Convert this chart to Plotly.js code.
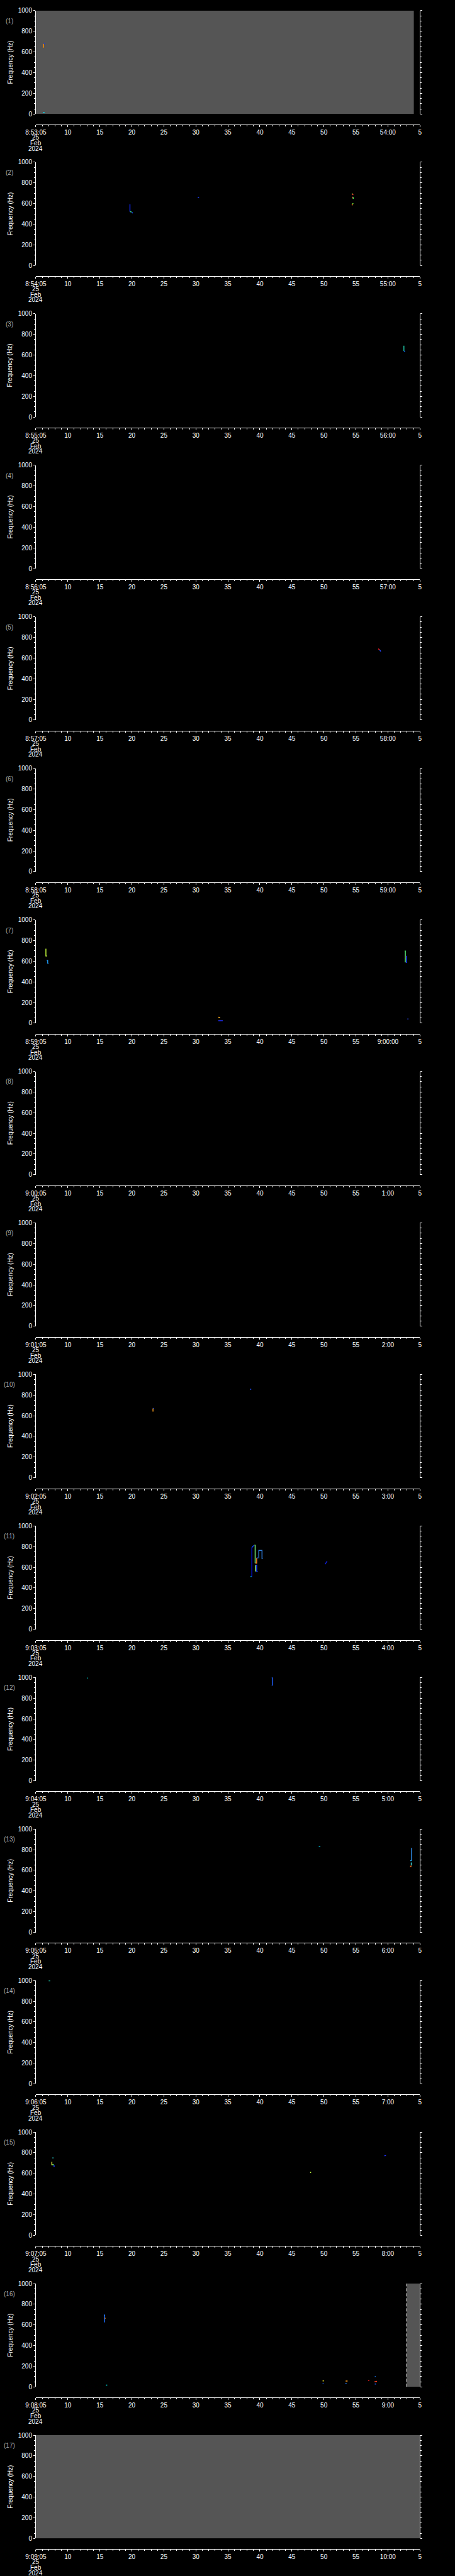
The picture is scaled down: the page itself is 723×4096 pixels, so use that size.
<!DOCTYPE html>
<html><head><meta charset="utf-8">
<script src="https://cdn.plot.ly/plotly-3.0.1.min.js"></script>
<style>html,body{margin:0;padding:0;background:#000;overflow:hidden}#chart{width:723px;height:4096px}</style>
</head><body><div id="chart"></div>
<script>
// ---------------- data ----------------
const panelStart = ['8:53:05','8:54:05','8:55:05','8:56:05','8:57:05','8:58:05','8:59:05','9:00:05','9:01:05',
  '9:02:05','9:03:05','9:04:05','9:05:05','9:06:05','9:07:05','9:08:05','9:09:05'];
const minuteLabel = ['54:00','55:00','56:00','57:00','58:00','59:00','9:00:00','1:00','2:00','3:00','4:00','5:00',
  '6:00','7:00','8:00','9:00','10:00'];
const secondLabel = ['10','15','20','25','30','35','40','45','50','55'];
const endLabel = '5';
const tickOffsets = [0,5,10,15,20,25,30,35,40,45,50,55,60];   // seconds after panel start
const dateLines = ['25','Feb','2024'];
const freqTicks = [0,200,400,600,800,1000];
const freqTitle = 'Frequency (Hz)';

// grey (no data / flagged) blocks
const greyPanel = [1, 16, 17];
const greyFrom  = [0, 57.94, 0];
const greyTo    = [59.05, 60, 60];
const flagPanel = 16, flagTime = 57.94, flagText = '$ADRUN,0,*', flagFreq = 1036;

// spectrogram traces: panel, time offsets (s), frequency (Hz), colour
const markPanel = [1,1,1, 2,2,2,2,2,2,2,2,2,2, 3,3, 5,5, 7,7,7,7,7,7,7,7, 10,10,10,
  11,11,11,11,11,11,11,11,11,11, 12,12, 13,13,13,13,13, 14, 15,15,15,15,15,15,
  16,16,16,16,16,16,16,16,16,16,16,16];
const markT = [
  [1.2,1.2],[1.25,1.42],[1.15,1.35],
  [14.7,14.7],[14.72,14.98],[15.0,15.15],[25.3,25.5],[49.35,49.5],[49.45,49.6],[49.5,49.5],[49.56,49.6],[49.45,49.62],[49.42,49.42],
  [57.5,57.5],[57.5,57.68],
  [53.5,53.7],[53.7,53.9],
  [1.57,1.57,1.75],[1.7,1.85,1.85,1.95],[28.5,28.8],[28.5,29.2],[57.62,57.72,57.72],[57.74,57.8],[57.8,57.9,57.9],[58.05,58.2],
  [18.3,18.3],[18.3,18.42],[33.45,33.65],
  [33.55,33.72],[33.74,33.74],[33.74,33.9,34.05],[34.15,34.26,34.26],[34.3,34.5,34.5],[34.5,34.7],[34.3,34.3],[34.32,34.5,34.5,34.65],
  [34.83,34.83,35.33,35.33,35.45],[45.2,45.5],
  [8.0,8.15],[36.85,36.95,36.95,36.85],
  [44.2,44.45],[58.7,58.7],[58.5,58.7],[58.58,58.65,58.65],[58.45,58.6,58.6],
  [2.0,2.25],
  [2.55,2.8],[2.5,2.5,2.7],[2.6,2.85],[2.85,2.85],[42.85,43.0],[54.45,54.7],
  [10.62,10.78],[10.75,10.75],[10.75,10.9],[10.95,11.15],[44.8,45.0],[44.8,44.95],[48.4,48.7],[48.35,48.55],[51.9,52.1],
  [52.95,53.1],[52.9,53.3],[52.95,53.15]
];
const markF = [
  [679,642],[679,679],[15,15],
  [593,521],[521,518],[515,506],[656,662],[693,692],[690,684],[666,650],[662,646],[600,598],[598,582],
  [690,640],[640,632],
  [690,680],[680,665],
  [720,650,650],[607,607,580,575],[57,55],[24,24],[698,698,588],[640,640],[588,588,652],[40,40],
  [640,671],[671,671],[856,856],
  [512,510],[508,791],[791,800,812],[814,814,640],[640,640,690],[690,690],[620,560],[620,620,560,560],
  [687,763,763,685,685],[630,659],
  [995,995],[997,997,925,925],
  [833,833],[818,694],[694,694],[671,671,647],[634,634,645],
  [998,998],
  [750,750],[712,683,683],[683,683],[680,660],[610,610],[771,773],
  [696,696],[696,625],[665,665],[17,17],[58,58],[33,33],[57,57],[33,33],[62,62],
  [100,100],[50,54],[28,28]
];
const markColor = [
  '#ff8c00','#1030ff','#00e8ff',
  '#1028ff','#40f0a0','#1050ff','#2040ff','#b8ff40','#ff2828','#ff3030','#50ff60','#70ff40','#ff8820',
  '#20c8a8','#1070ff',
  '#ff2020','#2848ff',
  '#c8ff3c','#20a0ff','#ffb020','#2030ff','#60ff80','#ff2020','#2040ff','#3050ff',
  '#ffa020','#3060ff','#2050ff',
  '#00e0e0','#0010d0','#1040ff','#80ff80','#ff8020','#2060ff','#a0ff80','#2040ff','#3080e0','#1020e0',
  '#00e0e0','#2060ff',
  '#00d0f0','#3090f0','#20b0f0','#40e0e0','#ff7020',
  '#20e0c0',
  '#20a0a0','#f0f040','#40ff80','#2040ff','#c0ff40','#2030ff',
  '#2080ff','#2070ff','#ff9020','#00e0e0','#f0e020','#2060ff','#ffa020','#2080ff','#ff2020','#2080ff','#ff4020','#2060ff'
];
// points just past the end of the time axis
const edgePanel = [6, 6, 10];
const edgeT = [[61.4,61.4,61.4],[61.55,61.55],[60.65,60.75]];
const edgeF = [[690,675,660],[655,640],[880,880]];
const edgeColor = ['#60ff80','#2050ff','#00c0ff'];
// small text notes under panel 16
const notePanel = [16, 16];
const noteT = [11.1, 11.1];
const noteF = [-25, -66];
const noteText = ['4', '2.9'];

// ---------------- layout ----------------
const REF_W = 1024, REF_H = 5802, N = 17, PITCH = REF_H / N;
const PLOT_L = 80.7, PLOT_R = 945, PLOT_T = 24, PLOT_B = 256.7, TAXIS = 280.6;
const fx = r => r / REF_W;
const fy = r => 1 - r / REF_H;
const FONT = 'Liberation Sans, Arial, sans-serif';
const sfx = k => (k === 1 ? '' : String(k));

const traces = [];
const annotations = [];
const layout = {
  width: 723, height: 4096,
  margin: {l: 0, r: 0, t: 0, b: 0, pad: 0},
  paper_bgcolor: '#000', plot_bgcolor: '#000',
  showlegend: false,
  font: {family: FONT, color: '#fff', size: 10}
};

for (let i = 0; i < N; i++) {
  const k = i + 1, s = sfx(k), off = i * PITCH;
  const ticktext = [panelStart[i]].concat(secondLabel, [minuteLabel[i], endLabel]);
  layout['xaxis' + s] = {
    domain: [fx(PLOT_L), fx(PLOT_R)], range: [0, 60], anchor: 'free', position: fy(TAXIS + off),
    showline: true, linecolor: '#fff', linewidth: 1, showgrid: false, zeroline: false,
    ticks: 'outside', ticklen: 3, tickwidth: 1, tickcolor: '#fff',
    tickmode: 'array', tickvals: tickOffsets, ticktext: ticktext,
    tickfont: {family: FONT, size: 10, color: '#fff'},
    minor: {tickmode: 'linear', tick0: 0, dtick: 1, ticks: 'outside', ticklen: 2, tickwidth: 1, tickcolor: '#fff', showgrid: false},
    fixedrange: true
  };
  layout['yaxis' + s] = {
    domain: [fy(PLOT_B + off), fy(PLOT_T + off)], range: [0, 1000], anchor: 'x' + s,
    showline: true, linecolor: '#fff', linewidth: 1, mirror: 'ticks', showgrid: false, zeroline: false,
    ticks: 'outside', ticklen: 3, tickwidth: 1, tickcolor: '#fff',
    tickmode: 'array', tickvals: freqTicks, ticktext: freqTicks.map(String),
    tickfont: {family: FONT, size: 10, color: '#fff'},
    minor: {tickmode: 'linear', tick0: 0, dtick: 50, ticks: 'outside', ticklen: 2, tickwidth: 1, tickcolor: '#fff', showgrid: false},
    fixedrange: true
  };
  // empty trace so that every subplot exists
  traces.push({type: 'scatter', x: [], y: [], xaxis: 'x' + s, yaxis: 'y' + s, hoverinfo: 'skip'});

  annotations.push({text: '(' + k + ')', xref: 'paper', yref: 'paper', x: fx(21), y: fy(47.3 + off),
    xanchor: 'center', yanchor: 'middle', showarrow: false, font: {family: FONT, size: 10, color: '#aaaaaa'}});
  annotations.push({text: freqTitle, xref: 'paper', yref: 'paper', x: fx(23.3), y: fy(140.4 + off), textangle: -90,
    xanchor: 'center', yanchor: 'middle', showarrow: false, font: {family: FONT, size: 10, color: '#fff'}});
  const dy = [310, 322.3, 334.3];
  dateLines.forEach((t, j) => annotations.push({text: t, xref: 'paper', yref: 'paper', x: fx(PLOT_L), y: fy(dy[j] + off),
    xanchor: 'center', yanchor: 'middle', showarrow: false, font: {family: FONT, size: 10, color: '#fff'}}));
}

// grey blocks
greyPanel.forEach((p, j) => {
  const s = sfx(p), a = greyFrom[j], b = greyTo[j];
  traces.push({type: 'scatter', mode: 'lines', x: [a, b, b, a, a], y: [0, 0, 1000, 1000, 0],
    fill: 'toself', fillcolor: '#555555', line: {width: 0, color: '#555555'},
    xaxis: 'x' + s, yaxis: 'y' + s, hoverinfo: 'skip'});
});
// flag line + label
traces.push({type: 'scatter', mode: 'lines', x: [flagTime, flagTime], y: [0, 1000],
  line: {color: '#fff', width: 1, dash: '5px,3px'}, xaxis: 'x' + sfx(flagPanel), yaxis: 'y' + sfx(flagPanel), hoverinfo: 'skip'});
annotations.push({text: flagText, xref: 'x' + sfx(flagPanel), yref: 'y' + sfx(flagPanel), x: flagTime, y: flagFreq,
  xanchor: 'center', yanchor: 'middle', showarrow: false, font: {family: FONT, size: 7, color: '#fff'}});

// spectrogram marks
markPanel.forEach((p, j) => {
  const s = sfx(p);
  traces.push({type: 'scatter', mode: 'lines', x: markT[j], y: markF[j],
    line: {color: markColor[j], width: 1.4}, xaxis: 'x' + s, yaxis: 'y' + s, hoverinfo: 'skip'});
});
edgePanel.forEach((p, j) => {
  const s = sfx(p);
  traces.push({type: 'scatter', mode: 'markers', x: edgeT[j], y: edgeF[j], cliponaxis: false,
    marker: {symbol: 'square', size: 2, color: edgeColor[j], line: {width: 0}}, xaxis: 'x' + s, yaxis: 'y' + s, hoverinfo: 'skip'});
});
notePanel.forEach((p, j) => {
  const s = sfx(p);
  annotations.push({text: noteText[j], xref: 'x' + s, yref: 'y' + s, x: noteT[j], y: noteF[j],
    xanchor: 'center', yanchor: 'middle', showarrow: false, font: {family: FONT, size: 8, color: '#fff'}});
});

layout.annotations = annotations;
Plotly.newPlot('chart', traces, layout, {staticPlot: true, displayModeBar: false});
</script></body></html>
